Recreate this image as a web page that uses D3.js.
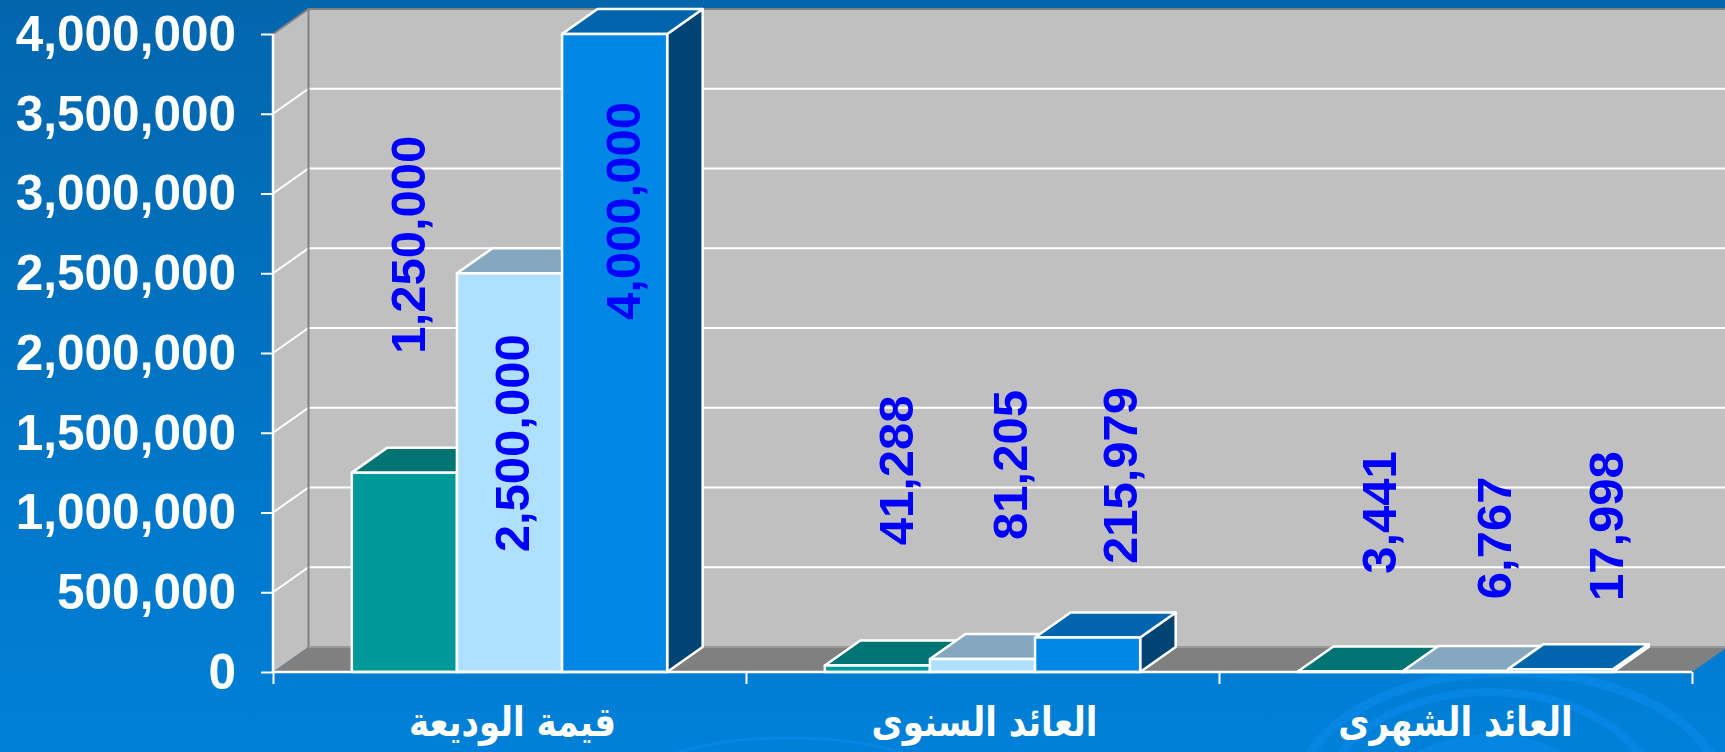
<!DOCTYPE html>
<html>
<head>
<meta charset="utf-8">
<script src="https://cdn.jsdelivr.net/npm/d3@7"></script>
<style>
html, body { margin: 0; padding: 0; background: #0270c0; overflow: hidden; }
svg { display: block; }
text { font-family: "Liberation Sans", Arial, sans-serif; font-weight: bold; }
</style>
</head>
<body>
<div id="chart"></div>
<script>
'use strict'

const categories = ['قيمة الوديعة', 'العائد السنوى', 'العائد الشهرى'];
const seriesA = [1250000, 41288, 3441];
const seriesB = [2500000, 81205, 6767];
const seriesC = [4000000, 215979, 17998];
const yTicks = [0, 500000, 1000000, 1500000, 2000000, 2500000, 3000000, 3500000, 4000000];

const frontColors = ['#009999', '#b0e0ff', '#0087e6'];
const topColors = ['#007373', '#84a8bf', '#0065ad'];
const sideColors = ['#004d4d', '#587080', '#004473'];

// hand placed labels in the original, nudges from bar centre and bar top
const labelDx = [[3, 2, 8], [18, 27, 32], [28, 38, 45]];
const labelDy = [[-228, 170, 177], [-195, -194, -162], [-159, -133, -143]];

const W = 1725, H = 752;
const depthX = 35.5, depthY = 25;

const svg = d3.select('#chart').append('svg').attr('width', W).attr('height', H);

const defs = svg.append('defs');
const grad = defs.append('linearGradient').attr('id', 'bg').attr('x1', 0).attr('x2', 0).attr('y1', 0).attr('y2', 1);
grad.append('stop').attr('offset', '0%').attr('stop-color', '#0266ad');
grad.append('stop').attr('offset', '100%').attr('stop-color', '#0080d8');
svg.append('rect').attr('width', W).attr('height', H).attr('fill', 'url(#bg)');

// ripples of the slide background
const ripples = svg.append('g').attr('fill', 'none').attr('stroke', '#0586e2');
ripples.append('ellipse').attr('cx', 1510).attr('cy', 800).attr('rx', 215).attr('ry', 128).attr('stroke-width', 9);
ripples.append('ellipse').attr('cx', 1490).attr('cy', 800).attr('rx', 165).attr('ry', 108).attr('stroke-width', 8);
ripples.append('ellipse').attr('cx', 1490).attr('cy', 800).attr('rx', 100).attr('ry', 62).attr('stroke-width', 8).attr('fill', '#0586e2');
ripples.append('ellipse').attr('cx', 790).attr('cy', 800).attr('rx', 175).attr('ry', 62).attr('stroke-width', 3);

const x0 = d3.scaleBand().domain(d3.range(categories.length)).range([273, 1692]);
const x1 = d3.scaleBand().domain(d3.range(3)).range([0, x0.bandwidth()]).paddingOuter(0.75).paddingInner(0);
const y = d3.scaleLinear().domain([0, 4000000]).range([672, 34]);

const chart = svg.append('g');
const plotLeft = x0.range()[0], plotRight = x0.range()[1];
const plotTop = y(4000000), plotBottom = y(0);

// walls and floor
chart.append('polygon').attr('fill', '#c0c0c0')
    .attr('points', [[plotLeft, plotTop], [plotLeft + depthX, plotTop - depthY], [plotLeft + depthX, plotBottom - depthY], [plotLeft, plotBottom]].join(' '));
chart.append('rect').attr('fill', '#c0c0c0')
    .attr('x', plotLeft + depthX).attr('y', plotTop - depthY)
    .attr('width', plotRight - plotLeft).attr('height', plotBottom - plotTop);
chart.append('polygon').attr('fill', '#808080')
    .attr('points', [[plotLeft, plotBottom], [plotLeft + depthX, plotBottom - depthY], [plotRight + depthX, plotBottom - depthY], [plotRight, plotBottom]].join(' '));

// gridlines
const grid = chart.append('g').attr('stroke', '#fff').attr('stroke-width', 2).attr('fill', 'none');
grid.selectAll('path').data(yTicks.filter(d => d > 0 && d < 4000000)).enter().append('path')
    .attr('d', d => `M${plotLeft},${y(d)}L${plotLeft + depthX},${y(d) - depthY}H${plotRight + depthX}`);

// grey wall edges
const edges = chart.append('g').attr('stroke', '#808080').attr('stroke-width', 2).attr('fill', 'none');
edges.append('path').attr('d', `M${plotLeft},${plotTop}L${plotLeft + depthX},${plotTop - depthY}H${plotRight + depthX}`);
edges.append('path').attr('d', `M${plotLeft + depthX},${plotTop - depthY}V${plotBottom - depthY}`);
edges.append('path').attr('d', `M${plotLeft + depthX},${plotBottom - depthY}H${plotRight + depthX}`).attr('stroke', '#9a9a9a');

// bars, left to right so the next bar covers the side of the previous one
const rows = categories.map((c, i) => [seriesA[i], seriesB[i], seriesC[i]]);
const bars = [];
rows.forEach((vals, i) => vals.forEach((v, s) => bars.push({ cat: i, s: s, value: v })));

const barG = chart.selectAll('.bar').data(bars).enter().append('g')
    .attr('class', 'bar')
    .attr('stroke', '#fff').attr('stroke-width', 2.5).attr('stroke-linejoin', 'round');

const bx = d => x0(d.cat) + x1(d.s);
const bw = x1.bandwidth();

barG.append('polygon').attr('fill', d => sideColors[d.s])
    .attr('points', d => [[bx(d) + bw, y(d.value)], [bx(d) + bw + depthX, y(d.value) - depthY],
        [bx(d) + bw + depthX, plotBottom - depthY], [bx(d) + bw, plotBottom]].join(' '));
barG.append('polygon').attr('fill', d => topColors[d.s])
    .attr('points', d => [[bx(d), y(d.value)], [bx(d) + depthX, y(d.value) - depthY],
        [bx(d) + bw + depthX, y(d.value) - depthY], [bx(d) + bw, y(d.value)]].join(' '));
barG.append('rect').attr('fill', d => frontColors[d.s])
    .attr('x', bx).attr('y', d => y(d.value))
    .attr('width', bw).attr('height', d => plotBottom - y(d.value));

// axes
const axisY = d3.axisLeft(y).tickValues(yTicks).tickFormat(d3.format(',')).tickSize(12).tickPadding(25);
const gy = svg.append('g').attr('transform', `translate(${plotLeft},0)`).call(axisY);
const axisX = d3.axisBottom(d3.scaleLinear().domain([0, categories.length]).range([plotLeft, plotRight]))
    .ticks(categories.length).tickFormat('').tickSize(12);
const gx = svg.append('g').attr('transform', `translate(0,${plotBottom})`).call(axisX);
[gy, gx].forEach(g => {
    g.selectAll('line').attr('stroke', '#fff').attr('stroke-width', 2);
    g.select('.domain').attr('stroke', '#fff').attr('stroke-width', 2.5);
});
gx.select('.domain').attr('d', `M${plotLeft},0H${plotRight}`);
gy.select('.domain').attr('d', `M0,${plotTop}V${plotBottom}`);
gy.selectAll('text').attr('fill', '#fff').style('font-size', '49.5px').attr('dy', '0.33em');

// category labels, stretched up a bit since the original arabic face is taller
svg.selectAll('.cat').data(categories).enter().append('text')
    .attr('class', 'cat')
    .attr('transform', (d, i) => `translate(${x0(i) + x0.bandwidth() / 2 + [3, 2, 0][i]},736) scale(1,1.2)`)
    .attr('text-anchor', 'middle')
    .attr('direction', 'rtl')
    .attr('fill', '#fff')
    .style('font-size', '34px')
    .style('font-family', '"DejaVu Sans", sans-serif')
    .text(d => d);

// value labels, rotated
svg.selectAll('.val').data(bars).enter().append('text')
    .attr('class', 'val')
    .attr('transform', d => `translate(${bx(d) + bw / 2 + labelDx[d.cat][d.s]},${y(d.value) + labelDy[d.cat][d.s]}) rotate(-90)`)
    .attr('text-anchor', 'middle')
    .attr('dy', '0.36em')
    .attr('fill', '#0000ff')
    .style('font-size', '49px')
    .text(d => d3.format(',')(d.value));
</script>
</body>
</html>
